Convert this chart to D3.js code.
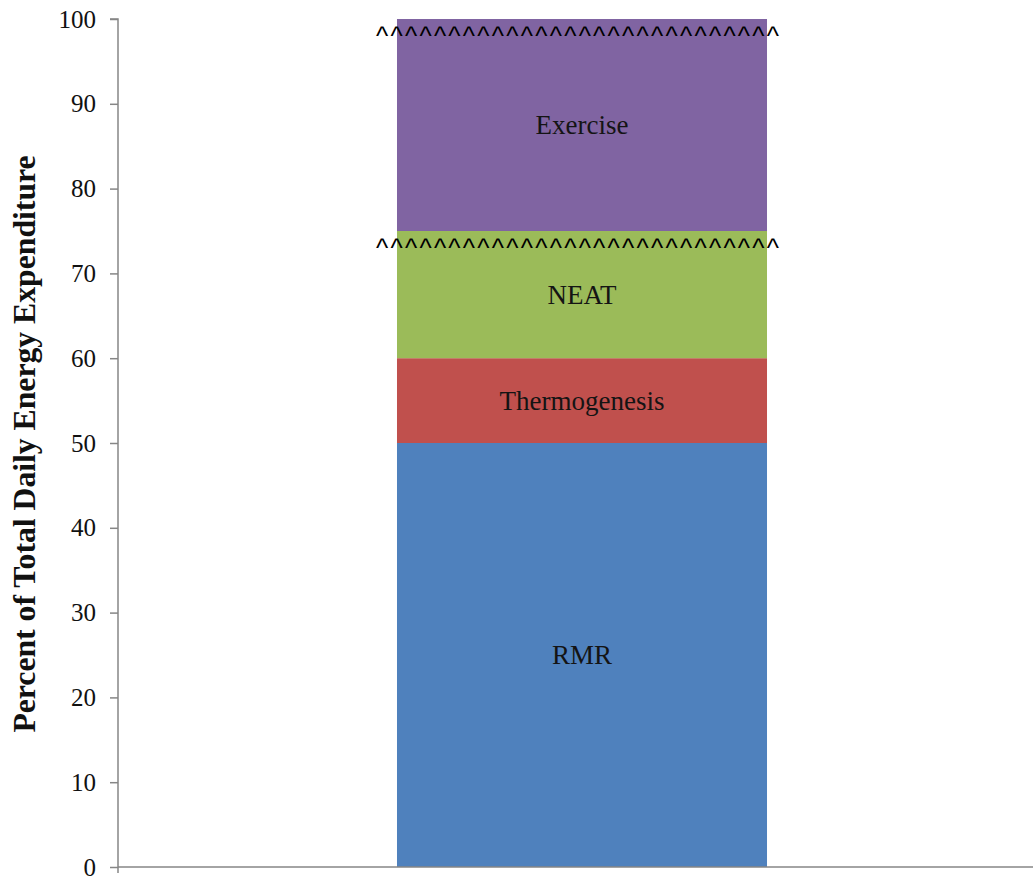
<!DOCTYPE html>
<html>
<head>
<meta charset="utf-8">
<script src="https://cdn.jsdelivr.net/npm/d3@7"></script>
<style>
  html, body { margin: 0; padding: 0; background: #fff; }
  svg { display: block; }
</style>
</head>
<body>
<svg id="chart" width="1033" height="880"></svg>
<script>
// Components of total daily energy expenditure (percent, stacked bottom to top)
const categories = ["Total"];
const components = ["RMR", "Thermogenesis", "NEAT", "Exercise"];
const values = [50, 10, 15, 25];
const colors = ["#4F81BD", "#C0504D", "#9BBB59", "#8064A2"];
const yTicks = [0, 10, 20, 30, 40, 50, 60, 70, 80, 90, 100];
// Variable components are marked with a row of carets under their top edge
const variableComponents = ["NEAT", "Exercise"];
const yTitle = "Percent of Total Daily Energy Expenditure";

const SERIF = "'Liberation Serif', 'Times New Roman', Times, serif";
const SANS = "'Liberation Sans', Arial, sans-serif";

const svg = d3.select("#chart");
const plotLeft = 118, plotTop = 19, plotBottom = 867, plotRight = 1046;

const y = d3.scaleLinear().domain([0, 100]).range([plotBottom, plotTop]);
const x = d3.scaleBand().domain(categories).range([plotLeft, plotRight])
  .paddingInner(0).paddingOuter(0.754);

// Stack the components
let acc = 0;
const segs = components.map((name, i) => {
  const s = { name, y0: acc, y1: acc + values[i], color: colors[i] };
  acc += values[i];
  return s;
});

const g = svg.append("g");

g.selectAll("rect.seg").data(segs).enter().append("rect")
  .attr("class", "seg")
  .attr("x", x(categories[0]))
  .attr("width", x.bandwidth())
  .attr("y", d => y(d.y1))
  .attr("height", d => y(d.y0) - y(d.y1))
  .attr("fill", d => d.color);

g.selectAll("text.seglabel").data(segs).enter().append("text")
  .attr("class", "seglabel")
  .attr("x", x(categories[0]) + x.bandwidth() / 2)
  .attr("y", d => y((d.y0 + d.y1) / 2))
  .attr("dy", "0.35em")
  .attr("text-anchor", "middle")
  .style("font-family", SERIF)
  .style("font-size", "27px")
  .attr("fill", "#141414")
  .text(d => d.name);

// Caret rows
const caretRow = "^".repeat(28);
const caretX0 = x(categories[0]) - 21;
const caretX1 = x(categories[0]) + x.bandwidth() + 12;
g.selectAll("text.caret").data(segs.filter(d => variableComponents.includes(d.name)))
  .enter().append("text")
  .attr("class", "caret")
  .attr("x", caretX0)
  .attr("y", d => y(d.y1) + 26)
  .style("font-family", SANS)
  .style("font-size", "26px")
  .attr("fill", "#000")
  .attr("textLength", caretX1 - caretX0)
  .attr("lengthAdjust", "spacing")
  .text(caretRow);

// Y axis
const yAxis = d3.axisLeft(y).tickValues(yTicks).tickSize(8).tickPadding(14);
const ya = svg.append("g").attr("transform", `translate(${plotLeft},0)`).call(yAxis);
ya.attr("font-family", null);
ya.select(".domain").attr("stroke", "#868686").attr("stroke-width", 1.5)
  .attr("d", `M-8,${plotTop}H0V${plotBottom + 6}`);
ya.selectAll(".tick line").attr("stroke", "#868686").attr("stroke-width", 1.5);
ya.selectAll(".tick text")
  .style("font-family", SERIF)
  .style("font-size", "25px")
  .attr("fill", "#111");

// X axis baseline
svg.append("line")
  .attr("x1", plotLeft).attr("x2", 1033)
  .attr("y1", y(0)).attr("y2", y(0))
  .attr("stroke", "#868686").attr("stroke-width", 1.5);

// Y axis title
svg.append("text")
  .attr("transform", `translate(35,444) rotate(-90)`)
  .attr("text-anchor", "middle")
  .style("font-family", SERIF)
  .style("font-size", "31.7px")
  .attr("font-weight", "bold")
  .attr("fill", "#111")
  .text(yTitle);
</script>
</body>
</html>
